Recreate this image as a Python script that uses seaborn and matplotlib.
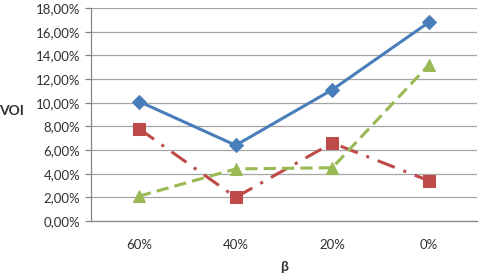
import matplotlib
matplotlib.use("Agg")
import matplotlib.pyplot as plt
import seaborn as sns
import pandas as pd
from matplotlib.ticker import FixedLocator, FuncFormatter

# data
beta = ["60%", "40%", "20%", "0%"]
series_a = [10.1, 6.4, 11.1, 16.8]
series_b = [7.8, 2.0, 6.6, 3.4]
series_c = [2.1, 4.4, 4.5, 13.2]
y_ticks = [0, 2, 4, 6, 8, 10, 12, 14, 16, 18]

sns.set_style("white")
plt.rcParams["font.family"] = ["Lato", "DejaVu Sans"]

fig = plt.figure(figsize=(4.83, 2.79), dpi=100)
ax = fig.add_axes([0.188, 0.208, 0.800, 0.763])

styles = [
    (series_a, "#4A7EBB", "D", "-", 7),
    (series_b, "#BE4B48", "s", (0, (6, 3, 1, 3)), 8),
    (series_c, "#98B954", "^", (0, (4, 2)), 8.5),
]
for vals, col, mk, ls, ms in styles:
    df = pd.DataFrame({"beta": beta, "voi": vals})
    sns.lineplot(data=df, x="beta", y="voi", ax=ax, color=col, marker=mk,
                 markersize=ms, markeredgecolor=col, linewidth=2.2,
                 linestyle=ls, sort=False)

ax.set_xlim(-0.5, len(beta) - 0.5)
ax.set_ylim(0, 18)
ax.set_yticks(y_ticks)
ax.yaxis.set_major_formatter(FuncFormatter(lambda v, p: f"{v:.2f}%".replace(".", ",")))
ax.grid(axis="y", color="#A6A6A6", linewidth=0.9)
ax.set_axisbelow(True)

# category boundary ticks
ax.xaxis.set_minor_locator(FixedLocator([i - 0.5 for i in range(len(beta) + 1)]))
ax.tick_params(axis="x", which="major", length=0, pad=13, labelsize=9.5, colors="#303030")
ax.tick_params(axis="x", which="minor", length=5, color="#868686", width=0.9)
ax.tick_params(axis="y", length=4, width=0.9, labelsize=9.5, left=True,
               colors="#868686", labelcolor="#303030")

for s in ["top", "right"]:
    ax.spines[s].set_visible(False)
for s in ["left", "bottom"]:
    ax.spines[s].set_color("#868686")
    ax.spines[s].set_linewidth(0.9)

ax.set_xlabel("β", fontsize=10, fontweight="bold", color="#303030", labelpad=7)
ax.set_ylabel("VOI", fontsize=10, fontweight="bold", color="#303030", rotation=0)
ax.yaxis.set_label_coords(-0.205, 0.49)

fig.savefig("out.png", dpi=100)
